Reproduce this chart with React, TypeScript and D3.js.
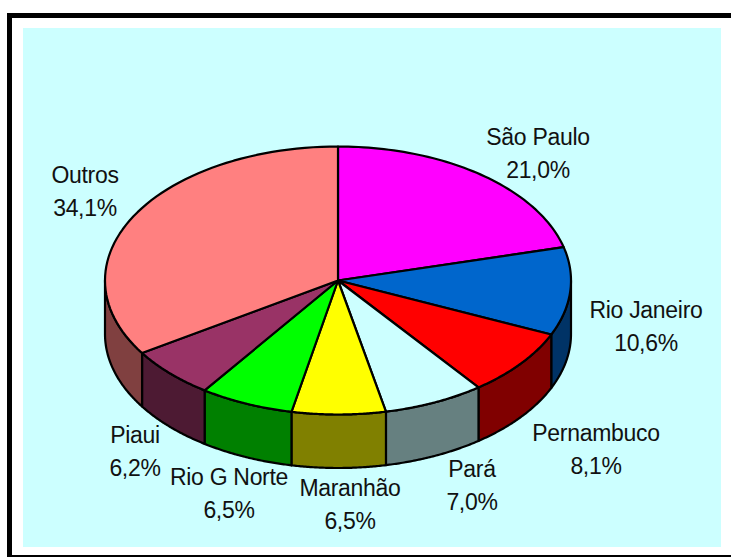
import React from "react";
import * as d3 from "d3";

const categories = ["São Paulo", "Rio Janeiro", "Pernambuco", "Pará", "Maranhão", "Rio G Norte", "Piaui", "Outros"];
const values = [21.0, 10.6, 8.1, 7.0, 6.5, 6.5, 6.2, 34.1];
const topColors = ["#ff00ff", "#0066cc", "#ff0000", "#ccffff", "#ffff00", "#00ff00", "#993366", "#ff8080"];
const sideColors = ["#800080", "#003366", "#800000", "#668080", "#808000", "#008000", "#4d1a33", "#804040"];
const labelX = [538, 646, 596, 472, 350, 229, 135, 85];
const labelY = [145, 318, 441, 477, 496, 485, 443, 183];

const cx = 338, cy = 280.5, rx = 233, ry = 134, depth = 53.5;
const px = (a: number) => cx + rx * Math.sin(a);
const py = (a: number) => cy - ry * Math.cos(a);
const lineGen = d3.line<[number, number]>();

const arcPts = (a0: number, a1: number, dy = 0): [number, number][] =>
  d3.range(0, 61).map((i) => {
    const a = a0 + ((a1 - a0) * i) / 60;
    return [px(a), py(a) + dy] as [number, number];
  });

const slices = d3.pie<number>().sort(null)(values);

export default function App() {
  const stroke = { stroke: "#000", strokeWidth: 2.2, strokeLinejoin: "round" as const };
  const sides = slices
    .map((s, i) => ({ i, a0: Math.max(s.startAngle, Math.PI / 2), a1: Math.min(s.endAngle, (3 * Math.PI) / 2) }))
    .filter((s) => s.a1 > s.a0);
  return (
    <svg width={731} height={557} style={{ position: "fixed", left: 0, top: 0, background: "#fff" }}>
      <rect x={23} y={28} width={698} height={519} fill="#ccffff" />
      <rect x={7} y={13} width={731} height={5} fill="#000" />
      <rect x={7} y={13} width={5} height={544} fill="#000" />
      <rect x={7} y={555} width={724} height={2} fill="#000" />
      {sides.map((s) => (
        <path
          key={s.i}
          d={(lineGen([...arcPts(s.a0, s.a1), ...arcPts(s.a1, s.a0, depth)]) as string) + "Z"}
          fill={sideColors[s.i]}
          {...stroke}
        />
      ))}
      {slices.map((s, i) => (
        <path
          key={i}
          d={(lineGen([[cx, cy], ...arcPts(s.startAngle, s.endAngle)]) as string) + "Z"}
          fill={topColors[i]}
          {...stroke}
        />
      ))}
      {categories.map((c, i) => (
        <text key={c} textAnchor="middle" fontFamily="'Liberation Sans', Arial, sans-serif" fontSize={23} fill="#111" letterSpacing={-0.3}>
          <tspan x={labelX[i]} y={labelY[i]}>{c}</tspan>
          <tspan x={labelX[i]} y={labelY[i] + 33}>{values[i].toFixed(1).replace(".", ",") + "%"}</tspan>
        </text>
      ))}
    </svg>
  );
}
